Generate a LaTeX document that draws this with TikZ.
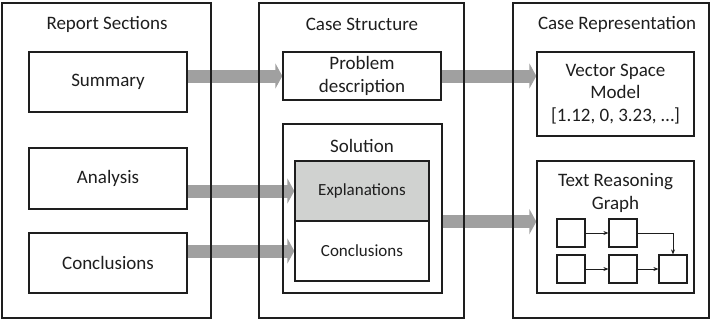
\documentclass[tikz,border=0pt]{standalone}
\usepackage{fontspec}
\setmainfont{Carlito}
\usetikzlibrary{arrows.meta}
\definecolor{flow}{RGB}{160,160,160}
\definecolor{shade}{RGB}{208,210,208}
\definecolor{ink}{RGB}{30,30,30}
\pgfdeclarelayer{background}
\pgfsetlayers{background,main}
\begin{document}
\begin{tikzpicture}[x=1pt,y=-1pt,
  box/.style={draw=ink, line width=1.3pt, inner sep=0pt, align=center,
    font=\fontsize{19}{22.5}\selectfont, text=ink},
  inner/.style={box, font=\fontsize{17}{20}\selectfont},
  label/.style={inner sep=0pt, align=center, font=\fontsize{19}{22.5}\selectfont, text=ink},
  flowarrow/.style={draw=flow, line width=13pt,
    -{Triangle[length=7pt, width=25pt]}},
  mini/.style={draw=ink, line width=1.2pt, minimum width=28pt, minimum height=28pt, inner sep=0pt},
  link/.style={draw=ink, line width=0.9pt, -{Stealth[length=5pt, width=4pt]}}]
\useasboundingbox (0,0) rectangle (710,322);

% Report sections
\node[box, minimum width=209pt, minimum height=315pt] (report) at (106.5,160.5) {};
\node[label] (reporttitle) at (107,24) {Report Sections};
\node[box, minimum width=158pt, minimum height=60pt] (summary) at (108,82) {Summary};
\node[box, minimum width=158pt, minimum height=61pt] (analysis) at (108,178.5) {Analysis};
\node[box, minimum width=158pt, minimum height=60pt] (conclusions) at (108,263) {Conclusions};

% Case structure
\node[box, minimum width=205pt, minimum height=315pt] (structure) at (361.5,160.5) {};
\node[label] (structuretitle) at (362,24) {Case Structure};
\node[box, minimum width=158pt, minimum height=48pt] (problem) at (362,76) {Problem\\description};
\node[box, minimum width=159pt, minimum height=169pt] (solution) at (362.5,208.5) {};
\node[label] (solutiontitle) at (362,146) {Solution};
\node[inner, fill=shade, minimum width=134pt, minimum height=60pt] (explanations) at (362,191) {Explanations};
\node[inner, minimum width=134pt, minimum height=60pt] (solconclusions) at (362,251) {Conclusions};

% Case representation
\node[box, minimum width=196pt, minimum height=315pt] (representation) at (611,160.5) {};
\node[label] (representationtitle) at (617,24) {Case Representation};
\node[box, minimum width=157pt, minimum height=84pt] (vsm) at (615.5,94) {Vector Space\\Model\\{[}1.12, 0, 3.23, …{]}};
\node[box, minimum width=157pt, minimum height=132pt] (trg) at (615.5,227) {};
\node[label] (trgtitle) at (615.5,193) {Text Reasoning\\Graph};

% small reasoning graph
\node[mini] (g1) at (571,233) {};
\node[mini] (g2) at (623,233) {};
\node[mini] (g3) at (571,269) {};
\node[mini] (g4) at (623,269) {};
\node[mini] (g5) at (673,269) {};
\draw[link] (g1) -- (g2);
\draw[link] (g2.east) -| (g5.north);
\draw[link] (g3) -- (g4);
\draw[link] (g4) -- (g5);

% wide flow arrows behind the frames
\begin{pgfonlayer}{background}
  \draw[flowarrow] (summary.east |- problem.west) -- (problem.west);
  \draw[flowarrow] (analysis.east |- explanations.west) -- (explanations.west);
  \draw[flowarrow] (conclusions.east |- solconclusions.west) -- (solconclusions.west);
  \draw[flowarrow] (problem.east) -- (vsm.west |- problem.east);
  \draw[flowarrow] (solution.east |- explanations.south) -- (trg.west |- explanations.south);
\end{pgfonlayer}
\end{tikzpicture}
\end{document}
